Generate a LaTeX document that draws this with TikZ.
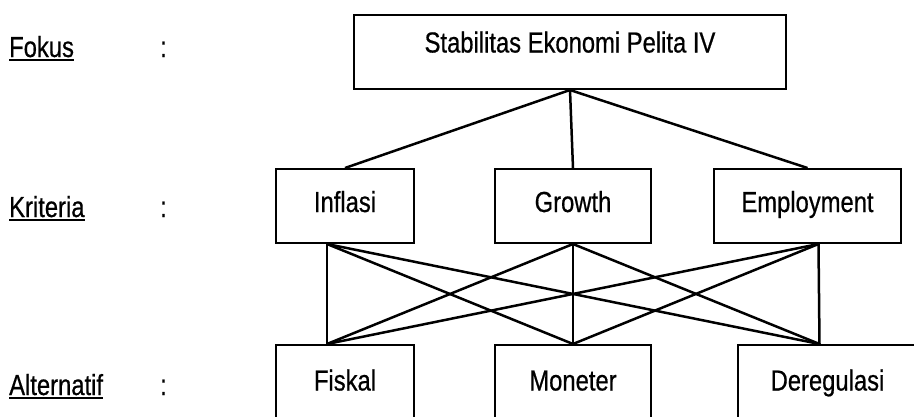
\documentclass[tikz,border=0pt]{standalone}
\usepackage{xcolor,tikz,fontspec}
\usetikzlibrary{positioning}
\setmainfont{Liberation Sans}[FakeStretch=0.82,FakeBold=0.6]
\newcommand\bigsf{\fontsize{29}{33}\selectfont}
\newcommand\ulab[1]{\setbox0\hbox{#1}\rlap{\vrule height -2pt depth 4pt width \wd0}\box0}
\tikzset{
  box/.style={draw=black,line width=2pt,minimum height=74pt,inner sep=0pt,text height=21pt,font=\bigsf},
  ln/.style={line width=2.5pt,draw=black},
  lab/.style={inner sep=0pt,anchor=base west,font=\bigsf}
}

\begin{document}
\begin{tikzpicture}[x=1pt,y=-1pt]
  \useasboundingbox (0,0) rectangle (914,416);
  % levels on the left
  \node[lab] (lF) at (9,57) {\ulab{Fokus}};
  \node[lab] (lK) at (9,217) {\ulab{Kriteria}};
  \node[lab] (lA) at (9,395) {\ulab{Alternatif}};
  \node[lab] (cF) at (160,57) {:};
  \node[lab] (cK) at (160,217) {:};
  \node[lab] (cA) at (160,395) {:};
  % focus
  \node[box,minimum width=432pt,text depth=20pt] (S) at (570,52) {Stabilitas Ekonomi Pelita IV};
  % criteria
  \node[box,minimum width=138pt,text depth=9pt] (Inf) at (345,206) {Inflasi};
  \node[box,minimum width=156pt,text depth=9pt,right=79pt of Inf] (Gro) {Growth};
  \node[box,minimum width=187pt,text depth=9pt,right=61pt of Gro] (Emp) {Employment};
  % alternatives
  \node[box,minimum width=138pt,text depth=4pt,below=100pt of Inf] (Fis) {Fiskal};
  \node[box,minimum width=156pt,text depth=4pt,below=100pt of Gro] (Mon) {Moneter};
  \node[box,minimum width=179pt,text depth=4pt,right=85pt of Mon] (Der) {Deregulasi};
  \draw[ln] (S.south)--(Inf.north);
  \draw[ln] (S.south)--(Gro.north);
  \draw[ln] (S.south)--(Emp.north);
  \coordinate (iB) at ([xshift=-18pt]Inf.south);
  \coordinate (gB) at (Gro.south);
  \coordinate (eB) at ([xshift=11pt]Emp.south);
  \coordinate (fT) at ([xshift=-18pt]Fis.north);
  \coordinate (mT) at (Mon.north);
  \coordinate (dT) at ([xshift=-8pt]Der.north);
  \foreach \a in {iB,gB,eB}
    \foreach \b in {fT,mT,dT}
      \draw[ln] (\a)--(\b);
\end{tikzpicture}
\end{document}
